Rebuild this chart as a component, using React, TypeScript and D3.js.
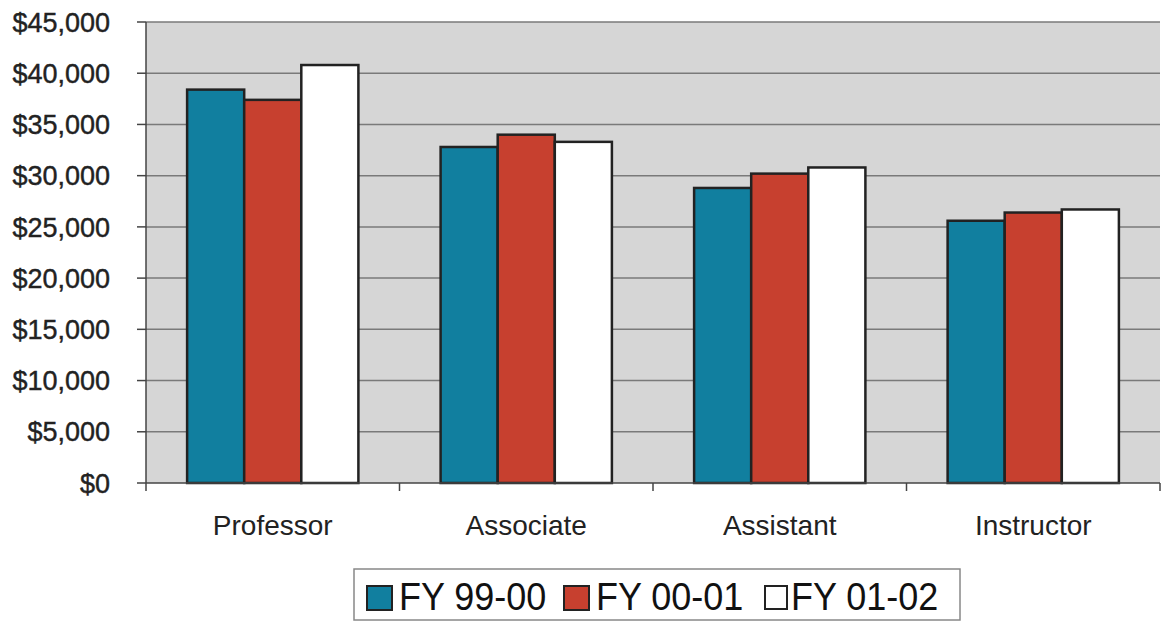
import React from "react";
import * as d3 from "d3";

const categories = ["Professor", "Associate", "Assistant", "Instructor"];
const seriesNames = ["FY 99-00", "FY 00-01", "FY 01-02"];
const fy9900 = [38400, 32800, 28800, 25600];
const fy0001 = [37400, 34000, 30200, 26400];
const fy0102 = [40800, 33300, 30800, 26700];
const yTicks = [0, 5000, 10000, 15000, 20000, 25000, 30000, 35000, 40000, 45000];
const colors = ["#117f9f", "#c7402f", "#ffffff"];

export default function App() {
  const W = 1167, H = 621;
  const left = 146, right = 1160, top = 22, bottom = 483;
  const series = [fy9900, fy0001, fy0102];
  const x = d3.scaleBand<string>().domain(categories).range([left, right]).paddingInner(0).paddingOuter(0);
  const inner = d3.scaleBand<string>().domain(seriesNames).range([0, x.bandwidth()]).paddingInner(0).paddingOuter(0.72);
  const y = d3.scaleLinear().domain([0, 45000]).range([bottom, top]);
  const fmt = (v: number) => "$" + d3.format(",")(v);
  const font = "Arial, 'Liberation Sans', sans-serif";
  const legendItems = [
    { sx: 367, sw: 25, tx: 399 },
    { sx: 564, sw: 25, tx: 596 },
    { sx: 765, sw: 22, tx: 791 },
  ];
  return (
    <svg width={W} height={H} style={{ position: "absolute", left: 0, top: 0, background: "#fff" }}>
      <rect x={left} y={top} width={right - left} height={bottom - top} fill="#d6d6d6" />
      {yTicks.map((t) => (
        <g key={t}>
          {t > 0 && <line x1={left} x2={right} y1={y(t)} y2={y(t)} stroke="#7a7a7a" strokeWidth={1.5} />}
          <line x1={left - 9} x2={left} y1={y(t)} y2={y(t)} stroke="#444" strokeWidth={1.5} />
          <text x={110} y={y(t)} dy="0.36em" textAnchor="end" fontFamily={font} fontSize={27} fill="#222" stroke="#222" strokeWidth={0.4}>{fmt(t)}</text>
        </g>
      ))}
      {categories.map((c, ci) => (
        <g key={c}>
          {series.map((s, si) => (
            <rect key={si} x={(x(c) as number) + (inner(seriesNames[si]) as number)} y={y(s[ci])} width={inner.bandwidth()} height={bottom - y(s[ci])} fill={colors[si]} stroke="#222" strokeWidth={2.5} />
          ))}
          <text x={(x(c) as number) + x.bandwidth() / 2} y={535} textAnchor="middle" fontFamily={font} fontSize={28} fill="#222">{c}</text>
        </g>
      ))}
      <line x1={left} x2={left} y1={top} y2={bottom} stroke="#444" strokeWidth={1.5} />
      <line x1={left} x2={right} y1={bottom} y2={bottom} stroke="#444" strokeWidth={1.5} />
      {[...categories.map((c) => x(c) as number), right].map((v, i) => (
        <line key={i} x1={v} x2={v} y1={bottom} y2={bottom + 8} stroke="#444" strokeWidth={1.5} />
      ))}
      <g>
        <rect x={354} y={569} width={606} height={51} fill="#fff" stroke="#888" strokeWidth={1.5} />
        {legendItems.map((p, i) => (
          <g key={i}>
            <rect x={p.sx} y={586} width={p.sw} height={i === 2 ? 23 : 24} fill={colors[i]} stroke="#222" strokeWidth={2} />
            <text x={p.tx} y={610} fontFamily={font} fontSize={36} fill="#111" transform={`translate(0,610) scale(1,1.07) translate(0,-610)`}>{seriesNames[i]}</text>
          </g>
        ))}
      </g>
    </svg>
  );
}
